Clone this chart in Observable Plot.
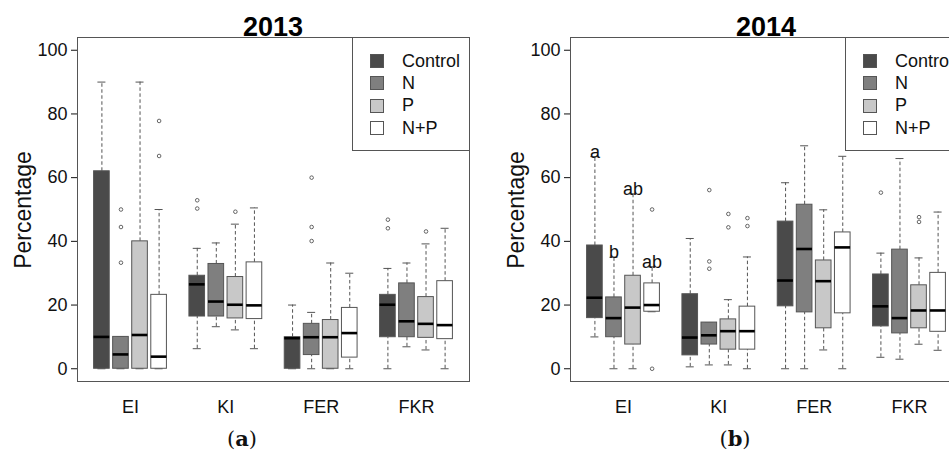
<!DOCTYPE html>
<html>
<head>
<meta charset="utf-8">
<script src="https://cdn.jsdelivr.net/npm/d3@7"></script>
<script src="https://cdn.jsdelivr.net/npm/@observablehq/plot@0.6"></script>
<style>
  html, body { margin: 0; padding: 0; background: #fff; overflow: hidden; }
  #wrap { position: relative; width: 949px; height: 453px; overflow: hidden; font-family: "Liberation Sans", Arial, sans-serif; }
  .panel { position: absolute; top: 0; width: 475px; height: 453px; }
  .title { position: absolute; top: 12px; left: 77px; width: 392px; text-align: center; font-weight: bold; font-size: 27px; line-height: 30px; color: #000; }
  .ylab { position: absolute; left: 23px; top: 210px; transform: translate(-50%, -50%) rotate(-90deg); font-size: 23px; white-space: nowrap; color: #111; }
  .caption { position: absolute; top: 426px; left: 202px; width: 80px; text-align: center; font-family: "DejaVu Serif", "Liberation Serif", serif; font-size: 21px; line-height: 26px; color: #111; }
  .legend { position: absolute; left: 352px; top: 37px; width: 116px; height: 112px; border: 1px solid #555; background: #fff; }
  .row { position: absolute; left: 17px; height: 22px; display: flex; align-items: center; font-size: 18px; color: #111; }
  .sw { width: 12px; height: 12px; border: 1px solid #555; margin-right: 18px; }
  .plot { position: absolute; left: 0; top: 0; }
</style>
</head>
<body>
<div id="wrap"></div>
<script>
const indices = ["EI", "KI", "FER", "FKR"];
const treatments = ["Control", "N", "P", "N+P"];
const fills = ["#4a4a4a", "#7f7f7f", "#c8c8c8", "#ffffff"];
const yTicks = [0, 20, 40, 60, 80, 100];
const years = ["2013", "2014"];
const captions = ["a", "b"];

// order: EI(Control,N,P,N+P), KI(...), FER(...), FKR(...)
const lo2013  = [0, 0, 0, 0,   6.3, 13.2, 12.2, 6.3,   0, 0, 0, 0,   0, 6.9, 5.9, 0];
const q1_2013 = [0, 0, 0, 0,   16.4, 16.4, 15.8, 15.6,  0, 4.3, 0, 3.5,   9.9, 9.9, 9.7, 9.3];
const med2013 = [10, 4.5, 10.6, 3.8,   26.5, 21.1, 20.1, 19.9,   9.6, 9.9, 9.9, 11.2,   20.1, 14.9, 14.1, 13.7];
const q3_2013 = [62, 10, 40, 23.2,   29.2, 32.9, 28.8, 33.4,   9.9, 14.1, 15.3, 19.1,   23.2, 26.8, 22.5, 27.5];
const hi2013  = [90, 10, 90, 50,   37.8, 39.5, 45.4, 50.5,   20, 17.7, 33.2, 30,   31.5, 33.2, 39.2, 44.1];
const out2013 = [
  ["EI", "N", 50], ["EI", "N", 44.5], ["EI", "N", 33.3],
  ["EI", "N+P", 66.8], ["EI", "N+P", 77.8],
  ["KI", "Control", 52.9], ["KI", "Control", 50.3], ["KI", "P", 49.3],
  ["FER", "N", 60], ["FER", "N", 44.5], ["FER", "N", 40.1],
  ["FKR", "Control", 46.8], ["FKR", "Control", 44.1], ["FKR", "P", 43.1]
];
const letters2013 = [];

const lo2014  = [10, 0, 0, 17.9,   0.6, 1.2, 1.2, 0,   0, 0, 5.9, 0,   3.6, 3.0, 7.7, 5.8];
const q1_2014 = [15.9, 9.9, 7.6, 17.9,   4.2, 7.6, 6.0, 6.0,   19.6, 17.7, 12.7, 17.4,   13.3, 11.1, 12.7, 11.6];
const med2014 = [22.3, 15.9, 19.2, 20.0,   9.8, 10.5, 11.8, 11.8,   27.7, 37.6, 27.5, 38.1,   19.6, 15.9, 18.3, 18.3];
const q3_2014 = [38.7, 22.4, 29.2, 26.8,   23.4, 14.5, 15.5, 19.5,   46.2, 51.5, 34.0, 42.8,   29.6, 37.4, 26.2, 30.1];
const hi2014  = [66.6, 35.0, 54.9, 32.0,   40.9, 14.5, 21.7, 35.1,   58.4, 70.0, 49.9, 66.7,   36.3, 66.0, 34.8, 49.2];
const out2014 = [
  ["EI", "N+P", 50], ["EI", "N+P", 0],
  ["KI", "N", 56.1], ["KI", "N", 33.7], ["KI", "N", 31.4],
  ["KI", "P", 48.6], ["KI", "P", 44.4],
  ["KI", "N+P", 47.3], ["KI", "N+P", 44.8],
  ["FKR", "Control", 55.3], ["FKR", "P", 47.6], ["FKR", "P", 46.1]
];
const letters2014 = [["EI", "Control", "a"], ["EI", "N", "b"], ["EI", "P", "ab"], ["EI", "N+P", "ab"]];

const stats = {
  "2013": {lo: lo2013, q1: q1_2013, med: med2013, q3: q3_2013, hi: hi2013, out: out2013, letters: letters2013},
  "2014": {lo: lo2014, q1: q1_2014, med: med2014, q3: q3_2014, hi: hi2014, out: out2014, letters: letters2014}
};

// slot position: 5 slots per group (4 boxes + gap), like R's boxplot "at"
const pos = (idx, trt) => indices.indexOf(idx) * 5 + treatments.indexOf(trt) + 1;
const halfBox = 0.41, halfCap = 0.21;

const wrap = document.getElementById("wrap");

years.forEach((year, yi) => {
  const s = stats[year];
  const rows = [];
  indices.forEach((idx, i) => treatments.forEach((trt, j) => {
    const k = i * 4 + j;
    rows.push({idx, trt, x: pos(idx, trt), lo: s.lo[k], q1: s.q1[k], med: s.med[k], q3: s.q3[k], hi: s.hi[k]});
  }));
  const outs = s.out.map(([idx, trt, v]) => ({x: pos(idx, trt), v}));
  const lets = s.letters.map(([idx, trt, t]) => {
    const r = rows.find(d => d.idx === idx && d.trt === trt);
    return {x: r.x, y: r.hi, t};
  });

  const chart = Plot.plot({
    width: 475,
    height: 420,
    marginLeft: 77,
    marginRight: 6,
    marginTop: 37,
    marginBottom: 39,
    style: {fontFamily: "Liberation Sans, Arial, sans-serif", fontSize: "18px", background: "transparent", color: "#111"},
    x: {domain: [-0.28, 20.28]},
    y: {domain: [-4, 104]},
    color: {domain: treatments, range: fills},
    marks: [
      Plot.ruleX(rows, {x: "x", y1: "q3", y2: "hi", stroke: "#555", strokeDasharray: "3.5,2.5"}),
      Plot.ruleX(rows, {x: "x", y1: "lo", y2: "q1", stroke: "#555", strokeDasharray: "3.5,2.5"}),
      Plot.ruleY(rows, {y: "hi", x1: d => d.x - halfCap, x2: d => d.x + halfCap, stroke: "#555"}),
      Plot.ruleY(rows, {y: "lo", x1: d => d.x - halfCap, x2: d => d.x + halfCap, stroke: "#555"}),
      Plot.rect(rows, {x1: d => d.x - halfBox, x2: d => d.x + halfBox, y1: "q1", y2: "q3", fill: "trt", stroke: "#555", strokeWidth: 1}),
      Plot.ruleY(rows, {y: "med", x1: d => d.x - halfBox, x2: d => d.x + halfBox, stroke: "#000", strokeWidth: 2.6}),
      Plot.dot(outs, {x: "x", y: "v", r: 1.8, stroke: "#555", strokeWidth: 0.9, fill: "none"}),
      Plot.text(lets, {x: "x", y: "y", text: "t", lineAnchor: "bottom", dy: 1, fontSize: 18, fill: "#111"}),
      Plot.axisY({ticks: yTicks, tickSize: 6, tickPadding: 4, label: null, fontSize: 18}),
      Plot.axisX({ticks: indices.map((d, i) => i * 5 + 2.5), tickFormat: (d, i) => indices[i], tickSize: 0, tickPadding: 19, label: null, fontSize: 18}),
      Plot.frame({stroke: "#555"})
    ]
  });
  chart.classList.add("plot");

  const panel = document.createElement("div");
  panel.className = "panel";
  panel.style.left = (yi * 493) + "px";
  panel.appendChild(chart);

  const title = document.createElement("div");
  title.className = "title";
  title.textContent = year;
  panel.appendChild(title);

  const ylab = document.createElement("div");
  ylab.className = "ylab";
  ylab.textContent = "Percentage";
  panel.appendChild(ylab);

  const cap = document.createElement("div");
  cap.className = "caption";
  cap.innerHTML = "(<b>" + captions[yi] + "</b>)";
  panel.appendChild(cap);

  const leg = document.createElement("div");
  leg.className = "legend";
  treatments.forEach((t, i) => {
    const row = document.createElement("div");
    row.className = "row";
    row.style.top = (12 + i * 22.4) + "px";
    const sw = document.createElement("div");
    sw.className = "sw";
    sw.style.background = fills[i];
    const lab = document.createElement("span");
    lab.textContent = t;
    row.appendChild(sw);
    row.appendChild(lab);
    leg.appendChild(row);
  });
  panel.appendChild(leg);

  wrap.appendChild(panel);
});
</script>
</body>
</html>
